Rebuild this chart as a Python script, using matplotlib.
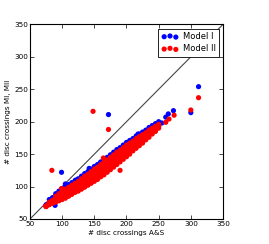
import matplotlib
matplotlib.use('Agg')
import matplotlib.pyplot as plt

# band of points, x in A&S crossings
band_x = [75, 80, 85, 90, 95, 100, 105, 110, 115, 120, 125, 130, 135, 140, 145, 150,
          155, 160, 165, 170, 175, 180, 185, 190, 195, 200, 205, 210, 215, 220, 225,
          230, 235, 240, 245, 250]

# Model I (blue) - upper edge of the band and one row just below it
blue_top = [72, 80, 83, 89, 93, 97, 100, 103, 106, 109, 112, 116, 120, 123, 127, 131,
            134, 138, 142, 145, 149, 153, 157, 160, 164, 168, 171, 174, 178, 181, 184,
            187, 191, 194, 197, 200]
blue_low = [70, 75, 78, 83, 87, 91, 94, 97, 100, 103, 106, 110, 114, 117, 121, 125,
            128, 132, 136, 139, 143, 147, 151, 154, 158, 162, 165, 168, 172, 175, 178,
            181, 185, 188, 191, 194]

# Model II (red) - four rows filling the band from the bottom
red_r1 = [70, 72, 74, 76, 78, 80, 82, 85, 88, 91, 93, 96, 99, 102, 105, 108,
          111, 115, 118, 122, 126, 130, 134, 138, 142, 146, 150, 155, 159, 163, 167,
          172, 176, 181, 185, 190]
red_r2 = [70, 73, 76, 79, 82, 84, 87, 90, 93, 96, 98, 101, 105, 108, 111, 114,
          117, 121, 125, 128, 132, 136, 140, 144, 148, 152, 156, 160, 164, 168, 171,
          176, 180, 184, 188, 192]
red_r3 = [70, 75, 77, 82, 85, 89, 91, 94, 97, 100, 103, 107, 110, 113, 117, 121,
          124, 128, 131, 135, 139, 143, 147, 150, 154, 158, 161, 165, 169, 172, 176,
          179, 183, 187, 190, 194]
red_r4 = [70, 76, 79, 85, 89, 93, 96, 99, 102, 105, 108, 112, 116, 119, 123, 127,
          130, 134, 138, 141, 145, 149, 153, 156, 160, 164, 167, 170, 174, 177, 180,
          183, 187, 190, 193, 196]

# isolated points
blue_out_x = [84, 86, 89, 99, 105, 121, 142, 159, 168, 172, 218, 255, 261, 265, 273, 300, 312]
blue_out_y = [80, 80, 71, 122, 104, 110, 128, 136, 141, 211, 181, 198, 207, 212, 217, 214, 254]
red_out_x = [75, 84, 99, 148, 164, 172, 190, 261, 266, 274, 300, 312]
red_out_y = [69, 125, 97, 216, 144, 188, 125, 199, 204, 210, 218, 237]

fig = plt.figure(figsize=(2.69, 2.44), dpi=100)
ax = fig.add_axes([0.1115, 0.1025, 0.7175, 0.7975])

ms = 14
bx = band_x + band_x + blue_out_x
by = blue_top + blue_low + blue_out_y
rx = band_x * 4 + red_out_x
ry = red_r1 + red_r2 + red_r3 + red_r4 + red_out_y

ax.plot([50, 350], [50, 350], color='#444444', lw=0.8)
ax.scatter(bx, by, s=ms, c='b', edgecolors='none', label='Model I', zorder=3)
ax.scatter(rx, ry, s=ms, c='r', edgecolors='none', label='Model II', zorder=3)

ax.set_xlim(50, 350)
ax.set_ylim(50, 350)
ax.set_xticks([50, 100, 150, 200, 250, 300, 350])
ax.set_yticks([50, 100, 150, 200, 250, 300, 350])
ax.tick_params(direction='in', top=True, right=True, labelsize=5.2, length=3, width=0.5, pad=1.5)
for sp in ax.spines.values():
    sp.set_linewidth(0.8)

ax.set_xlabel('# disc crossings A&S', fontsize=5.2, labelpad=2)
ax.set_ylabel('# disc crossings MI, MII', fontsize=5.2, labelpad=2)

leg = ax.legend(loc='upper right', fontsize=6, scatterpoints=3, fancybox=False,
                framealpha=1, edgecolor='black', borderaxespad=0.5, handletextpad=0.5,
                borderpad=0.4, labelspacing=0.4)
leg.get_frame().set_linewidth(0.6)

fig.savefig('out.png', dpi=100)
